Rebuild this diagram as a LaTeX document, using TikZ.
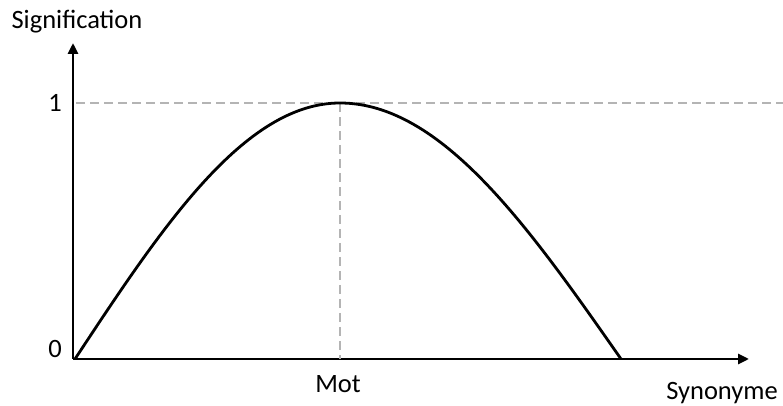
\documentclass[tikz,border=0pt]{standalone}
\usepackage{fontspec}
\setmainfont{Carlito}
\usepackage{xcolor}
\usetikzlibrary{arrows.meta,positioning}
\definecolor{GuideGray}{RGB}{180,180,180}

\begin{document}
\begin{tikzpicture}[x=1pt, y=1pt, font=\fontsize{26.5}{30}\selectfont,
		axis/.style={line width=2.8pt, -{Triangle[length=11pt,width=10pt]}},
		guide/.style={GuideGray, line width=2.6pt, dash pattern=on 9pt off 5pt}]
	\useasboundingbox (0,0) rectangle (783,406);
	
	% axes
	\coordinate (O) at (73,47);
	\coordinate (Ytip) at (73,363);
	\coordinate (Xtip) at (749,47);
	\draw[axis] (O) -- (Ytip);
	\draw[axis] (O) -- (Xtip);
	\node (sig) at (77,384) {Signification};
	\node (syn) at (722,13) {Synonyme};
	
	% niveaux 0 et 1
	\coordinate (top) at (340,303);
	\coordinate (base) at (340,47);
	\node (un) at (55,303) {1};
	\node (zero) at (55,57) {0};
	\node (mot) at (338,22) {Mot};
	\draw[guide] (76,303) -- (783,303);
	\draw[guide] (top) -- (base);
	
	% courbe
	\draw[line width=2.8pt] (75,47) sin (top) cos (621,47);
\end{tikzpicture}
\end{document}
